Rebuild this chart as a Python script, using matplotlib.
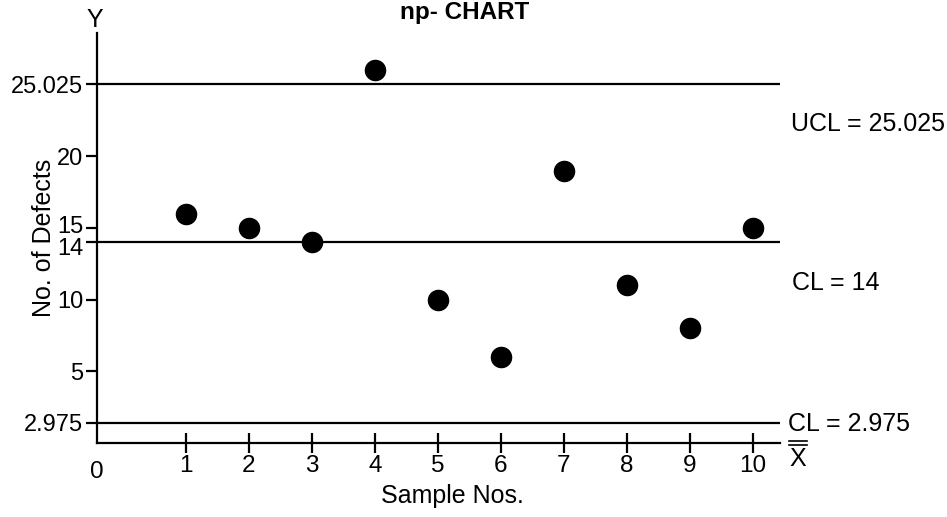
import numpy as np
import matplotlib
matplotlib.use("Agg")
import matplotlib.pyplot as plt
from matplotlib.lines import Line2D
import matplotlib.transforms as mtransforms

plt.rcParams['font.family'] = ['Liberation Sans', 'DejaVu Sans']

# Number of defectives per sample
samples = [1, 2, 3, 4, 5, 6, 7, 8, 9, 10]
defects = [16, 15, 14, 26, 10, 6, 19, 11, 8, 15]

# Control limits
ucl = 25.025
cl = 14
lcl = 2.975

y_ticks = [2.975, 5, 10, 14, 15, 20, 25.025]
y_tick_labels = ["2.975", "5", "10", "14", "15", "20", "25.025"]

# Piecewise-linear vertical scale: the strip below 5 is drawn compressed
knots_val = [0, 2.975, 5, 100]
knots_pos = [0, 1.4, 5, 100]


def fwd(v):
    return np.interp(v, knots_val, knots_pos)


def inv(p):
    return np.interp(p, knots_pos, knots_val)


fig = plt.figure(figsize=(9.47, 5.17), dpi=100)
ax = fig.add_axes([97 / 947, 74 / 517, (780 - 97) / 947, (443 - 33) / 517])
ax.set_yscale('function', functions=(fwd, inv))
ax.set_xlim(-0.413, 10.43)
ax.set_ylim(0, 28.6)

# Control lines
for level in (ucl, cl, lcl):
    ax.axhline(level, color='black', lw=1.6)

# Sample points
ax.plot(samples, defects, 'o', color='black', markersize=14.5, zorder=3)

for s in ('top', 'right'):
    ax.spines[s].set_visible(False)
for s in ('left', 'bottom'):
    ax.spines[s].set_linewidth(1.6)

ax.set_xticks(samples)
ax.set_xticklabels([str(s) for s in samples])
ax.tick_params(axis='x', direction='inout', length=14, width=1.6,
               labelsize=17.5, pad=2)
ax.set_yticks(y_ticks)
ax.set_yticklabels(y_tick_labels)
ax.yaxis.set_minor_locator(matplotlib.ticker.NullLocator())
ax.tick_params(axis='y', direction='out', length=8, width=1.6,
               labelsize=17, pad=2)

# Spread the crowded "14" / "15" labels apart a little
for lbl in ax.get_yticklabels():
    shift = {"14": -4, "15": 3}.get(lbl.get_text(), 0)
    if shift:
        lbl.set_transform(lbl.get_transform() + mtransforms.ScaledTranslation(
            0, shift / 100, fig.dpi_scale_trans))

# Origin label
ax.text(0, -0.045, "0", transform=ax.transAxes, ha='center', va='top',
        fontsize=17.5)

fig.text(452 / 947, 1 - 496 / 517, "Sample Nos.", ha='center', va='center',
         fontsize=18)
fig.text(44 / 947, 1 - 238 / 517, "No. of Defects", rotation=90,
         ha='center', va='center', fontsize=18)
fig.text(95 / 947, 1 - 20 / 517, "Y", ha='center', va='center', fontsize=18)
fig.text(465 / 947, 1 - 13 / 517, "np- CHART", ha='center', va='center',
         fontsize=17.5, fontweight='bold')

# Limit annotations at the right
fig.text(791 / 947, 1 - 124 / 517, "UCL = 25.025", ha='left', va='center',
         fontsize=18)
fig.text(792 / 947, 1 - 283 / 517, "CL = 14", ha='left', va='center',
         fontsize=18)
fig.text(788 / 947, 1 - 424 / 517, "CL = 2.975", ha='left', va='center',
         fontsize=18)

# X with double overline at the end of the horizontal axis
fig.text(798 / 947, 1 - 459 / 517, "X", ha='center', va='center',
         fontsize=18)
for yb in (441, 445):
    fig.add_artist(Line2D([789 / 947, 807 / 947], [1 - yb / 517, 1 - yb / 517],
                          color='black', lw=1.2, transform=fig.transFigure))

fig.savefig("out.png", dpi=100, facecolor='white')
